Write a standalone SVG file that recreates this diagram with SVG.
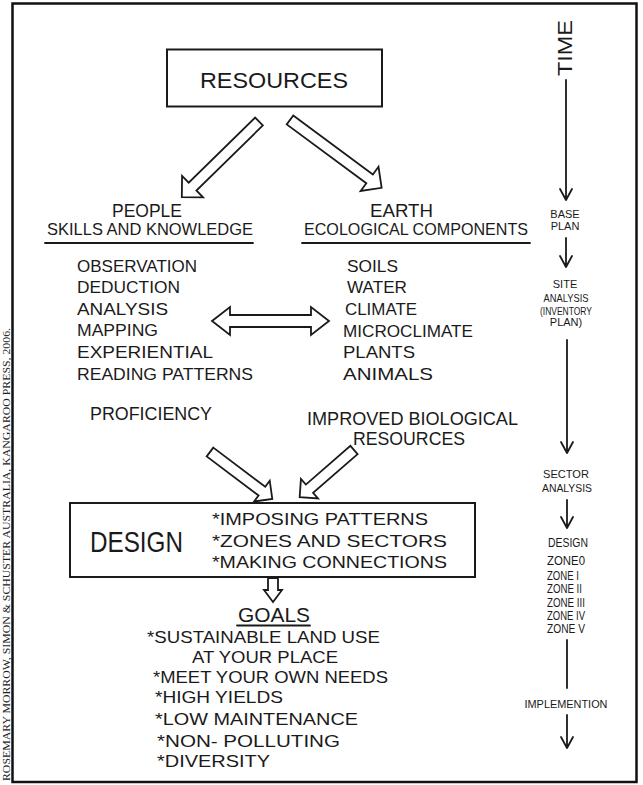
<svg xmlns="http://www.w3.org/2000/svg" width="643" height="785" viewBox="0 0 643 785">
<style>
text{font-family:"Liberation Sans",Arial,sans-serif;fill:#1a1a1a}
.h{font-size:18px}
.l{font-size:16.5px}
.s{font-size:11px;text-anchor:middle}
.z{font-size:12.5px}
.cr{font-family:"Liberation Serif","Times New Roman",serif;font-size:10px;fill:#222}
.ha{fill:#fff;stroke:#1a1a1a;stroke-width:1.8;stroke-linejoin:miter}
.ln{fill:none;stroke:#1a1a1a;stroke-width:1.8;stroke-linecap:round;stroke-linejoin:round}
.box{fill:#fff;stroke:#1a1a1a;stroke-width:2}
</style>
<rect x="0" y="0" width="643" height="785" fill="#fff"/>
<rect x="12.5" y="3.5" width="624" height="778.5" fill="none" stroke="#111" stroke-width="2.5"/>
<text class="cr" transform="translate(10,781) rotate(-90)" textLength="453" lengthAdjust="spacingAndGlyphs">ROSEMARY MORROW, SIMON &amp; SCHUSTER AUSTRALIA, KANGAROO PRESS, 2006.</text>

<g id="connectors">
  <path class="ha" transform="translate(259,121.5) rotate(135.6)" d="M0,-5.5 L93,-5.5 L93,-15 L108,0 L93,15 L93,5.5 L0,5.5 Z"/>
  <path class="ha" transform="translate(290,120) rotate(36.5)" d="M0,-5.5 L99,-5.5 L99,-15 L114,0 L99,15 L99,5.5 L0,5.5 Z"/>
  <path class="ha" d="M212,321 L230,307 L230,315 L311,315 L311,307 L329,321 L311,335 L311,327 L230,327 L230,335 Z"/>
  <path class="ha" transform="translate(210,452) rotate(37)" d="M0,-5.5 L65,-5.5 L65,-13 L78,0 L65,13 L65,5.5 L0,5.5 Z"/>
  <path class="ha" transform="translate(354,450) rotate(139)" d="M0,-5.5 L59,-5.5 L59,-13 L72,0 L59,13 L59,5.5 L0,5.5 Z"/>
  <path class="ha" transform="translate(273,578) rotate(90)" d="M0,-5 L12,-5 L12,-9 L24,0 L12,9 L12,5 L0,5 Z"/>
  <path class="ln" d="M566,80 V200 M560,189 L566,200 L572,189"/>
  <path class="ln" d="M566,238 V267 M560,256 L566,267 L572,256"/>
  <path class="ln" d="M567,340 V453 M561,442 L567,453 L573,442"/>
  <path class="ln" d="M567,500 V528 M561,517 L567,528 L573,517"/>
  <path class="ln" d="M567,640 V688"/>
  <path class="ln" d="M567,715 V748 M561,737 L567,748 L573,737"/>
</g>

<g id="resources">
  <rect class="box" x="167" y="49.5" width="215" height="57"/>
  <text x="200" y="88" font-size="22" textLength="148" lengthAdjust="spacingAndGlyphs">RESOURCES</text>
</g>

<g id="people">
  <text class="h" x="112" y="217" textLength="70" lengthAdjust="spacingAndGlyphs">PEOPLE</text>
  <text class="l" x="47" y="235" textLength="206" lengthAdjust="spacingAndGlyphs">SKILLS AND KNOWLEDGE</text>
  <line class="ln" x1="45" y1="243" x2="253" y2="243"/>
  <text class="l" x="77" y="272" textLength="120" lengthAdjust="spacingAndGlyphs">OBSERVATION</text>
  <text class="l" x="77" y="293" textLength="103" lengthAdjust="spacingAndGlyphs">DEDUCTION</text>
  <text class="l" x="77" y="315" textLength="91" lengthAdjust="spacingAndGlyphs">ANALYSIS</text>
  <text class="l" x="77" y="336" textLength="81" lengthAdjust="spacingAndGlyphs">MAPPING</text>
  <text class="l" x="77" y="358" textLength="136" lengthAdjust="spacingAndGlyphs">EXPERIENTIAL</text>
  <text class="l" x="77" y="380" textLength="176" lengthAdjust="spacingAndGlyphs">READING PATTERNS</text>
  <text class="h" x="90" y="420" textLength="122" lengthAdjust="spacingAndGlyphs">PROFICIENCY</text>
</g>

<g id="earth">
  <text class="h" x="370" y="217" textLength="63" lengthAdjust="spacingAndGlyphs">EARTH</text>
  <text class="l" x="304" y="235" textLength="224" lengthAdjust="spacingAndGlyphs">ECOLOGICAL COMPONENTS</text>
  <line class="ln" x1="302" y1="243" x2="530" y2="243"/>
  <text class="l" x="347" y="272" textLength="51" lengthAdjust="spacingAndGlyphs">SOILS</text>
  <text class="l" x="347" y="293" textLength="60" lengthAdjust="spacingAndGlyphs">WATER</text>
  <text class="l" x="345" y="315" textLength="72" lengthAdjust="spacingAndGlyphs">CLIMATE</text>
  <text class="l" x="343" y="337" textLength="130" lengthAdjust="spacingAndGlyphs">MICROCLIMATE</text>
  <text class="l" x="343" y="358" textLength="72" lengthAdjust="spacingAndGlyphs">PLANTS</text>
  <text class="l" x="343" y="380" textLength="90" lengthAdjust="spacingAndGlyphs">ANIMALS</text>
  <text class="h" x="307" y="425" textLength="211" lengthAdjust="spacingAndGlyphs">IMPROVED BIOLOGICAL</text>
  <text class="h" x="353" y="445" textLength="112" lengthAdjust="spacingAndGlyphs">RESOURCES</text>
</g>

<g id="design">
  <rect class="box" x="70" y="503" width="405" height="74"/>
  <text x="90" y="552" font-size="30" textLength="93" lengthAdjust="spacingAndGlyphs">DESIGN</text>
  <text class="l" x="212" y="525" textLength="216" lengthAdjust="spacingAndGlyphs">*IMPOSING PATTERNS</text>
  <text class="l" x="212" y="547" textLength="235" lengthAdjust="spacingAndGlyphs">*ZONES AND SECTORS</text>
  <text class="l" x="212" y="568" textLength="235" lengthAdjust="spacingAndGlyphs">*MAKING CONNECTIONS</text>
</g>

<g id="goals">
  <text x="238" y="622" font-size="20" textLength="72" lengthAdjust="spacingAndGlyphs">GOALS</text>
  <line class="ln" x1="237" y1="625.5" x2="310" y2="625.5"/>
  <text class="l" x="147" y="643" textLength="233" lengthAdjust="spacingAndGlyphs">*SUSTAINABLE LAND USE</text>
  <text class="l" x="192" y="663" textLength="146" lengthAdjust="spacingAndGlyphs">AT YOUR PLACE</text>
  <text class="l" x="153" y="683" textLength="235" lengthAdjust="spacingAndGlyphs">*MEET YOUR OWN NEEDS</text>
  <text class="l" x="155" y="703" textLength="128" lengthAdjust="spacingAndGlyphs">*HIGH YIELDS</text>
  <text class="l" x="155" y="725" textLength="203" lengthAdjust="spacingAndGlyphs">*LOW MAINTENANCE</text>
  <text class="l" x="157" y="747" textLength="183" lengthAdjust="spacingAndGlyphs">*NON- POLLUTING</text>
  <text class="l" x="157" y="767" textLength="113" lengthAdjust="spacingAndGlyphs">*DIVERSITY</text>
</g>

<g id="time">
  <text transform="translate(572,76) rotate(-90)" font-size="20" textLength="56" lengthAdjust="spacingAndGlyphs">TIME</text>
</g>
<g id="base-plan">
  <text class="s" x="565" y="218">BASE</text>
  <text class="s" x="565" y="230">PLAN</text>
</g>
<g id="site-analysis">
  <text class="s" x="565" y="288">SITE</text>
  <text class="s" x="566" y="302" textLength="45" lengthAdjust="spacingAndGlyphs">ANALYSIS</text>
  <text class="s" x="566" y="315" textLength="52" lengthAdjust="spacingAndGlyphs">(INVENTORY</text>
  <text class="s" x="566" y="326">PLAN)</text>
</g>
<g id="sector-analysis">
  <text class="s" x="566" y="478" font-size="12" textLength="46" lengthAdjust="spacingAndGlyphs">SECTOR</text>
  <text class="s" x="567" y="492" font-size="12" textLength="50" lengthAdjust="spacingAndGlyphs">ANALYSIS</text>
</g>
<g id="design-zones">
  <text class="z" x="548" y="547" font-size="15" textLength="40" lengthAdjust="spacingAndGlyphs">DESIGN</text>
  <text class="z" x="547" y="565" textLength="38" lengthAdjust="spacingAndGlyphs">ZONE0</text>
  <text class="z" x="547" y="580" textLength="32" lengthAdjust="spacingAndGlyphs">ZONE I</text>
  <text class="z" x="547" y="593" textLength="35" lengthAdjust="spacingAndGlyphs">ZONE II</text>
  <text class="z" x="547" y="607" textLength="38" lengthAdjust="spacingAndGlyphs">ZONE III</text>
  <text class="z" x="547" y="620" textLength="38" lengthAdjust="spacingAndGlyphs">ZONE IV</text>
  <text class="z" x="547" y="633" textLength="38" lengthAdjust="spacingAndGlyphs">ZONE V</text>
</g>
<g id="implementation">
  <text class="s" x="566" y="708" textLength="83" lengthAdjust="spacingAndGlyphs">IMPLEMENTION</text>
</g>
</svg>
